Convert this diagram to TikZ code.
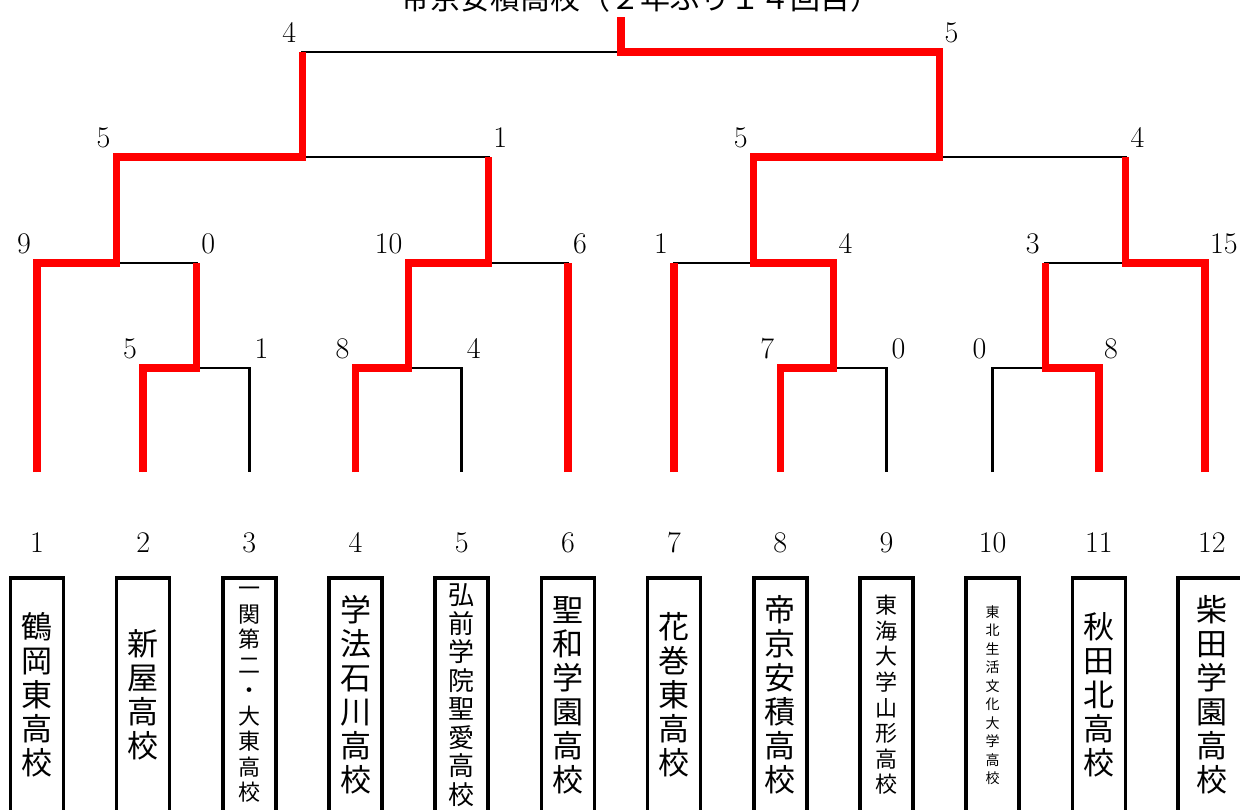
\documentclass[tikz,border=0pt]{standalone}
\usepackage{fontspec}
\newfontfamily\jp{Noto Sans CJK JP}
\usetikzlibrary{calc}

\begin{document}
\begin{tikzpicture}[x=1pt, y=-1pt,
    wire/.style={line width=2.7pt},
    win/.style={draw=red, line width=7.5pt, line join=miter},
    score/.style={font=\fontsize{30}{30}\selectfont, inner sep=0pt},
    lscore/.style={score, anchor=base east, xshift=-6pt, yshift=10pt},
    rscore/.style={score, anchor=base west, xshift=5pt, yshift=10pt},
    namebox/.style={draw, line width=3.5pt, minimum width=53pt, minimum height=300pt, anchor=north, inner sep=0pt},
    tate/.style={align=center, inner sep=0pt},
  ]
  \useasboundingbox (0,0) rectangle (1240,809);

  % feet of the team lines
  \foreach \i in {1,...,12}
    \coordinate (t\i) at ({37+(\i-1)*106.18},472);

  % match points
  \coordinate (m23) at (196.27,368);
  \coordinate (m45) at (408.63,368);
  \coordinate (m89) at (833.35,368);
  \coordinate (m1011) at (1045.71,368);
  \coordinate (q1) at (116.64,263);
  \coordinate (q2) at (488.27,263);
  \coordinate (q3) at (753.72,263);
  \coordinate (q4) at (1125.35,263);
  \coordinate (s1) at (302.45,157);
  \coordinate (s2) at (939.53,157);
  \coordinate (f) at (620.99,52);
  \coordinate (top) at (620.99,17);

  % title
  \node[font=\jp\fontsize{30}{36}\selectfont, inner sep=0pt] (title) at (640,-2) {帝京安積高校（２年ぶり１４回目）};

  % bracket and scores
  \foreach \a/\m/\b/\sa/\sb in {t2/m23/t3/5/1, t4/m45/t5/8/4, t8/m89/t9/7/0, t10/m1011/t11/0/8,
      t1/q1/m23/9/0, m45/q2/t6/10/6, t7/q3/m89/1/4, m1011/q4/t12/3/15,
      q1/s1/q2/5/1, q3/s2/q4/5/4, s1/f/s2/4/5} {
    \draw[wire] (\a) |- (\m) -| (\b);
    \node[lscore] (sa-\m) at (\a |- \m) {\sa};
    \node[rscore] (sb-\m) at (\b |- \m) {\sb};
  }

  % winners
  \draw[win] (t1) |- (q1) |- (s1) -- (s1 |- f);
  \draw[win] (t2) |- (m23) -- (m23 |- q1);
  \draw[win] (t4) |- (m45) |- (q2) -- (q2 |- s1);
  \draw[win] (t6) -- (t6 |- q2);
  \draw[win] (t7) -- (t7 |- q3);
  \draw[win] (t8) |- (m89) |- (q3) |- (s2) |- (f) -- (top);
  \draw[win] (t11) |- (m1011) -- (m1011 |- q4);
  \draw[win] (t12) |- (q4) -- (q4 |- s2);

  % numbers and school names
  \foreach \i in {1,...,11}
    \node[score, anchor=base] (n\i) at ([yshift=-80pt]t\i) {\i};
  \node[score, anchor=base] (n12) at ([xshift=7pt,yshift=-80pt]t12) {12};

  \foreach \i/\fs/\ls/\nm in {1/31/34/{鶴\\岡\\東\\高\\校}, 2/31/34/{新\\屋\\高\\校},
      3/22/25.5/{一\\関\\第\\二\\・\\大\\東\\高\\校}, 4/31/34/{学\\法\\石\\川\\高\\校},
      5/26/28.5/{弘\\前\\学\\院\\聖\\愛\\高\\校}, 6/31/34/{聖\\和\\学\\園\\高\\校},
      7/31/34/{花\\巻\\東\\高\\校}, 8/31/34/{帝\\京\\安\\積\\高\\校},
      9/22/25.6/{東\\海\\大\\学\\山\\形\\高\\校}, 10/14/18.5/{東\\北\\生\\活\\文\\化\\大\\学\\高\\校},
      11/31/34/{秋\\田\\北\\高\\校}} {
    \node[namebox] (box\i) at ([yshift=-104pt]t\i) {};
    \node[tate, font=\jp\fontsize{\fs}{\ls}\selectfont] (name\i) at ([yshift=-223pt]t\i) {\nm};
  }
  \node[namebox, minimum width=70pt] (box12) at ([xshift=8pt,yshift=-104pt]t12) {};
  \node[tate, font=\jp\fontsize{31}{34}\selectfont] (name12) at ([xshift=7pt,yshift=-223pt]t12) {柴\\田\\学\\園\\高\\校};
\end{tikzpicture}
\end{document}
